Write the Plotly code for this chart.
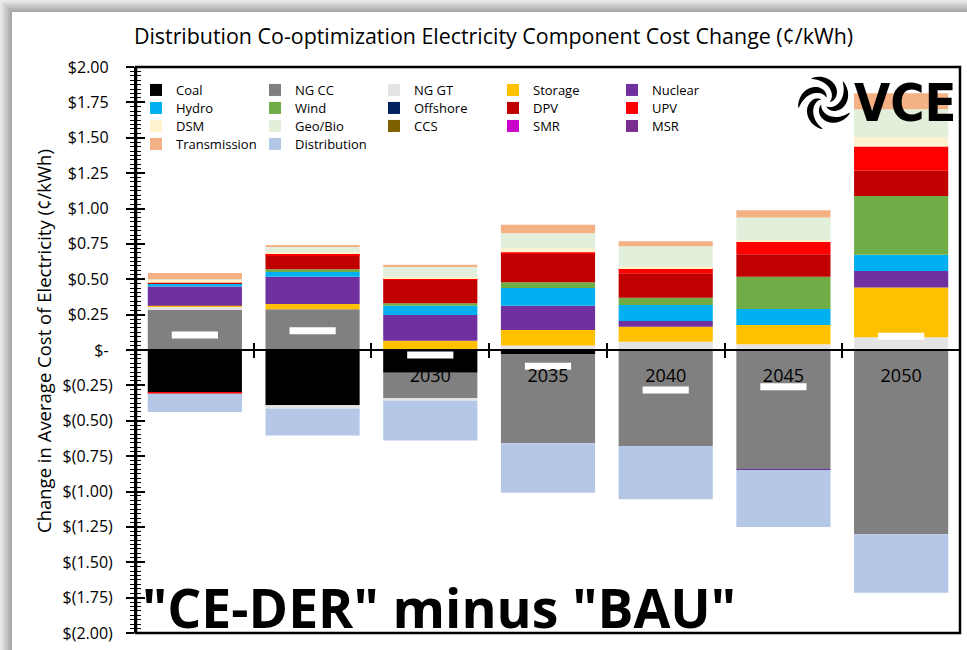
import numpy as np
import plotly.graph_objects as go

# categories
years = ["2020", "2025", "2030", "2035", "2040", "2045", "2050"]

# component cost change (cents/kWh)
coal = [-0.302, -0.391, -0.160, -0.028, 0.0, 0.0, 0.0]
ng_cc = [0.283, 0.288, -0.179, -0.631, -0.678, -0.843, -1.302]
ng_gt = [0.023, -0.023, -0.019, 0.031, 0.059, 0.040, 0.090]
storage = [0.007, 0.037, 0.066, 0.111, 0.106, 0.136, 0.351]
nuclear = [0.135, 0.193, 0.182, 0.170, 0.040, -0.005, 0.118]
hydro = [0.019, 0.033, 0.064, 0.127, 0.113, 0.113, 0.115]
wind = [0.0, 0.019, 0.019, 0.040, 0.052, 0.228, 0.415]
offshore = [0.0, 0.0, 0.0, 0.0, 0.0, 0.0, 0.0]
dpv = [0.009, 0.101, 0.165, 0.200, 0.172, 0.160, 0.177]
upv = [-0.005, 0.012, 0.007, 0.012, 0.037, 0.087, 0.172]
dsm = [0.019, 0.007, 0.012, 0.028, 0.009, 0.012, 0.066]
geo_bio = [0.005, 0.040, 0.073, 0.106, 0.146, 0.160, 0.198]
ccs = [0.0, 0.0, 0.0, 0.0, 0.0, 0.0, 0.0]
smr = [0.0, 0.0, 0.0, 0.0, 0.0, 0.0, 0.0]
msr = [0.0, 0.0, 0.0, 0.0, 0.0, 0.0, 0.0]
transmission = [0.045, 0.012, 0.014, 0.061, 0.035, 0.052, 0.113]
distribution = [-0.132, -0.191, -0.281, -0.349, -0.377, -0.403, -0.413]

# net change marker (white dash)
net_change = [0.106, 0.136, -0.036, -0.115, -0.283, -0.259, 0.097]

# y axis ticks
ytick_vals = [2.0, 1.75, 1.5, 1.25, 1.0, 0.75, 0.5, 0.25, 0.0,
              -0.25, -0.5, -0.75, -1.0, -1.25, -1.5, -1.75, -2.0]
ytick_text = ["$2.00", "$1.75", "$1.50", "$1.25", "$1.00", "$0.75", "$0.50", "$0.25", "$-",
              "$(0.25)", "$(0.50)", "$(0.75)", "$(1.00)", "$(1.25)", "$(1.50)", "$(1.75)", "$(2.00)"]
ytick_text = [t if t.endswith(")") else t + "\u00a0" for t in ytick_text]

series = [
    ("Coal", coal, "#000000"),
    ("NG CC", ng_cc, "#808080"),
    ("NG GT", ng_gt, "#E4E4E4"),
    ("Storage", storage, "#FFC000"),
    ("Nuclear", nuclear, "#7030A0"),
    ("Hydro", hydro, "#00B0F0"),
    ("Wind", wind, "#70AD47"),
    ("Offshore", offshore, "#002060"),
    ("DPV", dpv, "#C00000"),
    ("UPV", upv, "#FF0000"),
    ("DSM", dsm, "#FFF2CC"),
    ("Geo/Bio", geo_bio, "#E2EFDA"),
    ("CCS", ccs, "#7F6000"),
    ("SMR", smr, "#CC00CC"),
    ("MSR", msr, "#7B2C8F"),
    ("Transmission", transmission, "#F4B183"),
    ("Distribution", distribution, "#B4C7E7"),
]

FONT = "Open Sans"
W, H = 967, 650
L, R, T, B = 136, 7, 67, 17
PW, PH = W - L - R, H - T - B


def px_x(p):
    return (p - L) / PW


def px_y(p):
    return (H - B - p) / PH


fig = go.Figure()
legend_names = ["legend", "legend2", "legend3", "legend4"]
for i, (name, vals, col) in enumerate(series):
    fig.add_trace(go.Bar(x=years, y=vals, name=name, marker_color=col,
                         marker_line_width=0, legend=legend_names[i // 5]))

fig.add_trace(go.Scatter(x=years, y=net_change, mode="markers", showlegend=False,
                         marker=dict(symbol="line-ew", size=33,
                                     line=dict(color="white", width=7))))

# overlay axes for the inner half of the crossing tick marks
bounds = [i - 0.5 for i in range(len(years) + 1)]
fig.add_trace(go.Scatter(x=[None], y=[None], xaxis="x2", yaxis="y2",
                         showlegend=False, hoverinfo="skip"))

legend_rows = [90, 108, 126, 144]
legends = {}
for k, ln in enumerate(legend_names):
    legends[ln] = dict(orientation="h", x=0, xanchor="left",
                       y=px_y(legend_rows[k]), yanchor="middle",
                       entrywidth=74, entrywidthmode="pixels",
                       font=dict(family=FONT, size=13, color="black"),
                       bgcolor="rgba(0,0,0,0)", borderwidth=0)

fig.update_layout(
    width=W, height=H,
    margin=dict(l=L, r=R, t=T, b=B),
    paper_bgcolor="white", plot_bgcolor="white",
    barmode="relative", bargap=0.2,
    font=dict(family=FONT, color="black"),
    title=dict(text="Distribution Co-optimization Electricity Component Cost Change (¢/kWh)",
               x=493.5 / W, xref="container", xanchor="center",
               y=1 - 37 / H, yref="container", yanchor="middle",
               font=dict(family=FONT, size=21.4, color="black")),
    xaxis=dict(type="category", anchor="free", position=0.5, range=[-0.5, 6.5],
               showline=True, linecolor="black", linewidth=2,
               ticks="outside", tickson="boundaries", ticklen=7, tickwidth=1.5,
               tickcolor="black", tickfont=dict(family=FONT, size=18, color="black"),
               ticklabelstandoff=9, showgrid=False, zeroline=False),
    xaxis2=dict(overlaying="x", anchor="free", position=0.5, range=[-0.5, 6.5],
                tickmode="array", tickvals=bounds, ticks="inside", ticklen=7, tickwidth=1.5,
                tickcolor="black", showticklabels=False, showline=False,
                showgrid=False, zeroline=False),
    yaxis=dict(range=[-2, 2], tickmode="array", tickvals=ytick_vals, ticktext=ytick_text,
               ticks="outside", ticklen=8, tickwidth=1.5, tickcolor="black",
               showline=True, linecolor="black", linewidth=2,
               showgrid=False, zeroline=False, ticklabelstandoff=10,
               tickfont=dict(family=FONT, size=16, color="black"),
               minor=dict(tickmode="linear", tick0=0, dtick=0.03125, ticks="outside",
                          ticklen=4, tickwidth=1, tickcolor="black", showgrid=False)),
    yaxis2=dict(overlaying="y", anchor="free", position=0, side="left", range=[-2, 2],
                tickmode="array", tickvals=ytick_vals, ticks="inside", ticklen=8,
                tickwidth=1.5, tickcolor="black", showticklabels=False,
                showline=False, showgrid=False, zeroline=False,
                minor=dict(tickmode="linear", tick0=0, dtick=0.03125, ticks="inside",
                           ticklen=4, tickwidth=1, tickcolor="black", showgrid=False)),
    showlegend=True,
    **legends,
)

# y axis title
fig.add_annotation(text="Change in Average Cost of Electricity (¢/kWh)",
                   xref="paper", yref="paper", x=px_x(43), y=px_y(341),
                   xanchor="center", yanchor="middle",
                   textangle=-90, showarrow=False,
                   font=dict(family=FONT, size=18.5, color="black"))

# scenario label
fig.add_annotation(text='"CE-DER" minus "BAU"', xref="paper", yref="paper",
                   x=px_x(439), y=px_y(607), xanchor="center", yanchor="middle",
                   showarrow=False,
                   font=dict(family=FONT, size=53.5, color="black", weight="bold"))

# logo text
fig.add_annotation(text="VCE", xref="paper", yref="paper",
                   x=px_x(905), y=px_y(103), xanchor="center", yanchor="middle",
                   showarrow=False,
                   font=dict(family="DejaVu Sans Condensed, Liberation Sans Narrow, Liberation Sans",
                             size=52, color="black", weight="bold"))

# logo swirl
for k in range(5):
    phi = k * 2 * np.pi / 5
    t = np.linspace(0, 1, 24)
    r = 5 + 22 * t
    th = phi + 2.1 * t
    w = 3.4 * np.sin(np.pi * t) ** 0.8 + 0.3
    outer = [((r[i] + w[i]) * np.cos(th[i]), (r[i] + w[i]) * np.sin(th[i])) for i in range(len(t))]
    inner = [((r[i] - w[i]) * np.cos(th[i]), (r[i] - w[i]) * np.sin(th[i])) for i in range(len(t))][::-1]
    pts = outer + inner
    path = "M " + " L ".join(f"{a:.2f},{b:.2f}" for a, b in pts) + " Z"
    fig.add_shape(type="path", path=path, xsizemode="pixel", ysizemode="pixel",
                  xref="paper", yref="paper", xanchor=px_x(825), yanchor=px_y(102),
                  fillcolor="black", line_width=0, layer="above")

# plot area frame
fig.add_shape(type="rect", xref="paper", yref="paper", x0=0, x1=1, y0=0, y1=1,
              line=dict(color="black", width=2.5), layer="above")

# card shadow on top and left edges
shades = ["#e8e8e8", "#dcdcdc", "#cfcfcf", "#c2c2c2", "#b5b5b5", "#a8a8a8"]
for i, c in enumerate(shades):
    fig.add_shape(type="rect", xref="paper", yref="paper",
                  x0=px_x(2 * i), x1=px_x(2 * i + 2), y0=px_y(H), y1=px_y(2 * i),
                  fillcolor=c, line_width=0, layer="below")
    fig.add_shape(type="rect", xref="paper", yref="paper",
                  x0=px_x(2 * i), x1=px_x(W), y0=px_y(2 * i + 2), y1=px_y(2 * i),
                  fillcolor=c, line_width=0, layer="below")

fig.write_html("out.html", config={"displayModeBar": False},
               post_script="document.body.style.margin='0';document.body.style.overflow='hidden';")
